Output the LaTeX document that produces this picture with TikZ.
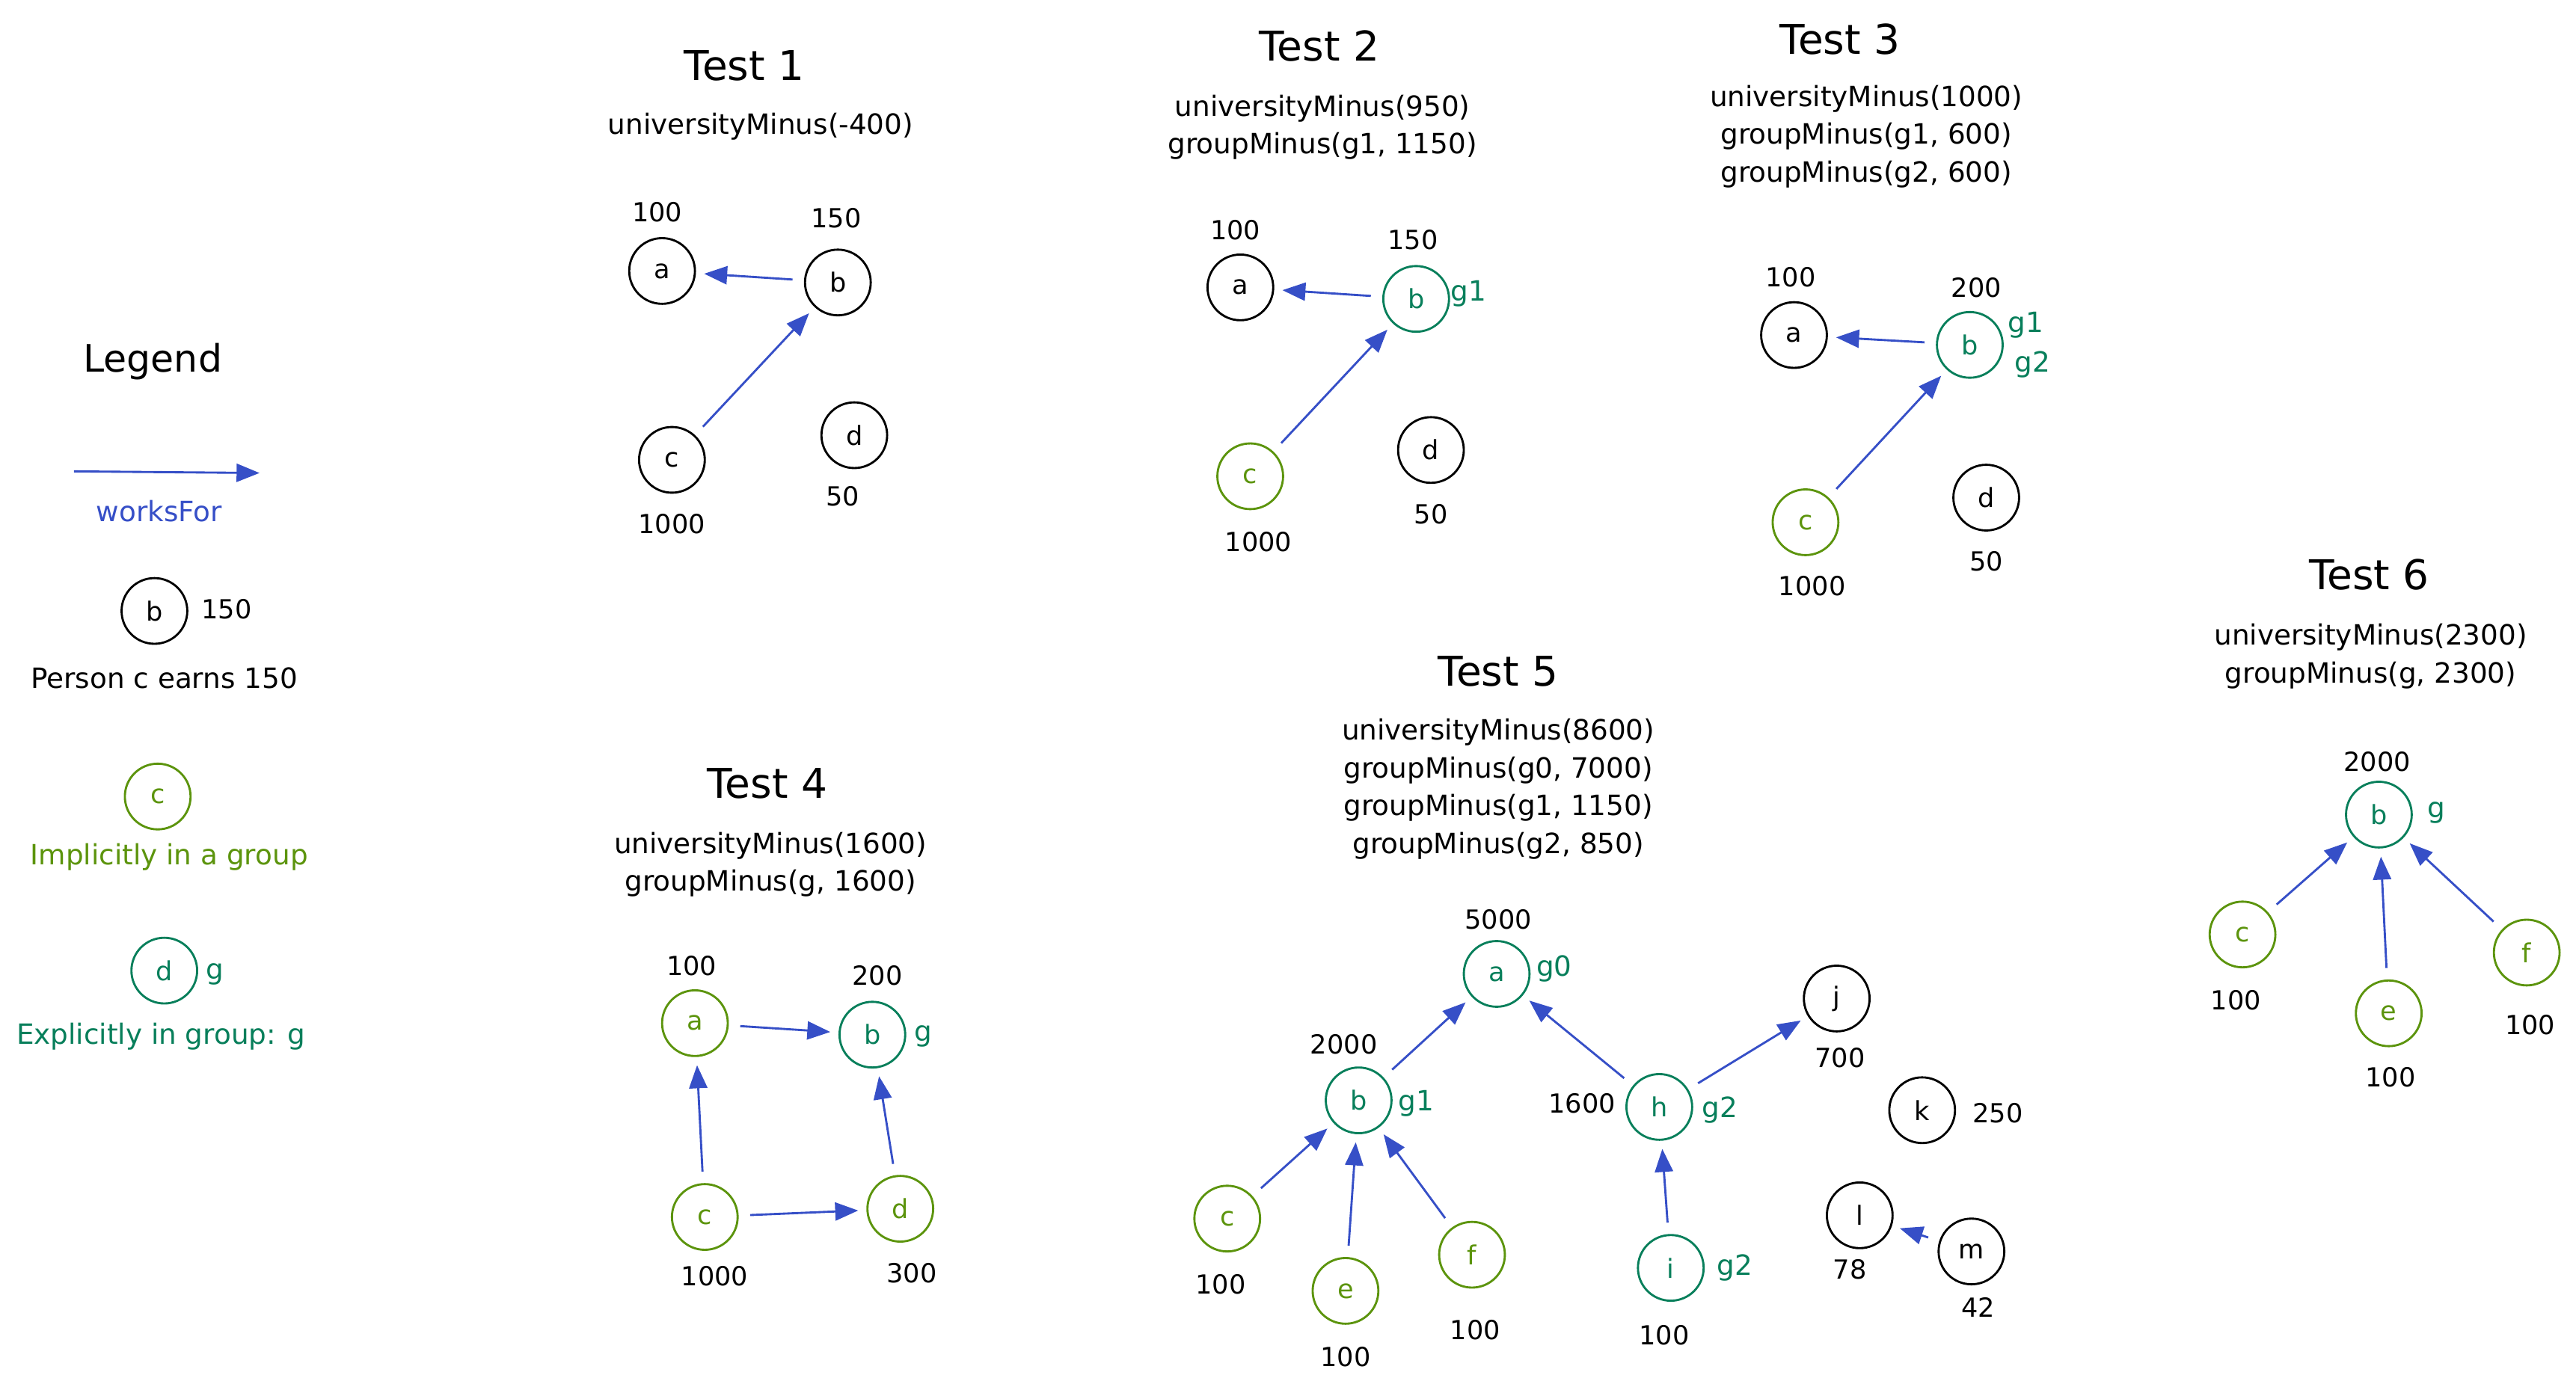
\documentclass[tikz,border=0pt]{standalone}
\usepackage{fontspec}
\setmainfont{DejaVu Sans}
\usetikzlibrary{arrows.meta}
\definecolor{wfblue}{HTML}{364FC7}
\definecolor{implgreen}{HTML}{5C940D}
\definecolor{explteal}{HTML}{087F5B}
\begin{document}
\begin{tikzpicture}[x=1pt,y=-1pt,
		person/.style={circle,draw,line width=1.3pt,minimum size=40pt,inner sep=0pt,font=\fontsize{16}{16}\selectfont},
		impl/.style={person,draw=implgreen,text=implgreen},
		expl/.style={person,draw=explteal,text=explteal},
		grp/.style={text=explteal,font=\fontsize{17}{17}\selectfont},
		val/.style={font=\fontsize{16}{16}\selectfont},
		title/.style={font=\fontsize{25}{25}\selectfont},
		call/.style={font=\fontsize{17}{23}\selectfont,align=center},
		works/.style={draw=wfblue,line width=1.3pt,-{Triangle[length=14pt,width=11pt]},shorten <=7pt,shorten >=5pt}]
	\useasboundingbox (0,0) rectangle (1568,848);
	%
	% legend
	\node[title,font=\fontsize{23}{23}\selectfont] (legend) at (93,220) {Legend};
	\coordinate (wf0) at (45,287);
	\coordinate (wf1) at (158,288);
	\draw[works,shorten <=0pt,shorten >=0pt] (wf0) -- (wf1);
	\node[call,text=wfblue] (wf) at (97,311) {worksFor};
	\node[person] (lgb) at (94,372) {b};
	\node[val] (lgb-v) at (138,371) {150};
	\node[call] (lgb-t) at (100,413) {Person c earns 150};
	\node[impl] (lgc) at (96,485) {c};
	\node[call,text=implgreen] (lgc-t) at (103,522) {Implicitly in a group};
	\node[expl] (lgd) at (100,591) {d};
	\node[grp] (lgd-g) at (131,593) {g};
	\node[call,text=explteal] (lgd-t) at (98,631) {Explicitly in group: g};
	%
	% test 1
	\node[title] (t1) at (453,40) {Test 1};
	\node[call] (t1-f) at (463,77) {universityMinus(-400)};
	\node[person] (t1a) at (403,165) {a};
	\node[person] (t1b) at (510,172) {b};
	\node[person] (t1c) at (409,280) {c};
	\node[person] (t1d) at (520,265) {d};
	\draw[works] (t1b) -- (t1a);
	\draw[works] (t1c) -- (t1b);
	%
	% test 2
	\node[title] (t2) at (803,28) {Test 2};
	\node[call] (t2-f) at (805,77.5) {universityMinus(950)\\groupMinus(g1, 1150)};
	\node[person] (t2a) at (755,175) {a};
	\node[expl] (t2b) at (862,182) {b};
	\node[impl] (t2c) at (761,290) {c};
	\node[person] (t2d) at (871,274) {d};
	\node[grp] (t2b-g) at (894,179) {g1};
	\draw[works] (t2b) -- (t2a);
	\draw[works] (t2c) -- (t2b);
	%
	% test 3
	\node[title] (t3) at (1120,24) {Test 3};
	\node[call] (t3-f) at (1136,83) {universityMinus(1000)\\groupMinus(g1, 600)\\groupMinus(g2, 600)};
	\node[person] (t3a) at (1092,204) {a};
	\node[expl] (t3b) at (1199,210) {b};
	\node[impl] (t3c) at (1099,318) {c};
	\node[person] (t3d) at (1209,303) {d};
	\node[grp] (t3b-g) at (1233,198) {g1};
	\node[grp] (t3b-h) at (1237,222) {g2};
	\draw[works] (t3b) -- (t3a);
	\draw[works] (t3c) -- (t3b);
	%
	% test 4
	\node[title] (t4) at (467,477) {Test 4};
	\node[call] (t4-f) at (469,526.5) {universityMinus(1600)\\groupMinus(g, 1600)};
	\node[impl] (t4a) at (423,623) {a};
	\node[expl] (t4b) at (531,630) {b};
	\node[impl] (t4c) at (429,741) {c};
	\node[impl] (t4d) at (548,736) {d};
	\node[grp] (t4b-g) at (562,631) {g};
	\draw[works] (t4a) -- (t4b);
	\draw[works] (t4c) -- (t4a);
	\draw[works] (t4c) -- (t4d);
	\draw[works] (t4d) -- (t4b);
	%
	% test 5
	\node[title] (t5) at (912,409) {Test 5};
	\node[call] (t5-f) at (912,480.5) {universityMinus(8600)\\groupMinus(g0, 7000)\\groupMinus(g1, 1150)\\groupMinus(g2, 850)};
	\node[expl] (t5a) at (911,593) {a};
	\node[expl] (t5b) at (827,670) {b};
	\node[expl] (t5h) at (1010,674) {h};
	\node[person] (t5j) at (1118,608) {j};
	\node[person] (t5k) at (1170,676) {k};
	\node[impl] (t5c) at (747,742) {c};
	\node[impl] (t5e) at (819,786) {e};
	\node[impl] (t5f) at (896,764) {f};
	\node[expl] (t5i) at (1017,772) {i};
	\node[person] (t5l) at (1132,740) {l};
	\node[person] (t5m) at (1200,762) {m};
	\node[grp] (t5a-g) at (946,590) {g0};
	\node[grp] (t5b-g) at (862,672) {g1};
	\node[grp] (t5h-g) at (1047,676) {g2};
	\node[grp] (t5i-g) at (1056,772) {g2};
	\foreach \s/\t in {b/a,h/a,h/j,c/b,e/b,f/b,i/h,m/l}
		\draw[works] (t5\s) -- (t5\t);
	%
	% test 6
	\node[title] (t6) at (1442,350) {Test 6};
	\node[call] (t6-f) at (1443,399.5) {universityMinus(2300)\\groupMinus(g, 2300)};
	\node[expl] (t6b) at (1448,496) {b};
	\node[impl] (t6c) at (1365,569) {c};
	\node[impl] (t6e) at (1454,617) {e};
	\node[impl] (t6f) at (1538,580) {f};
	\node[grp] (t6b-g) at (1483,495) {g};
	\foreach \s in {c,e,f}
		\draw[works] (t6\s) -- (t6b);
	%
	% earnings
	\foreach \n/\x/\y/\v in {t1a/400/129/100, t1b/509/133/150, t1c/409/319/1000, t1d/513/302/50,
			t2a/752/140/100, t2b/860/146/150, t2c/766/330/1000, t2d/871/313/50,
			t3a/1090/169/100, t3b/1203/175/200, t3c/1103/357/1000, t3d/1209/342/50,
			t4a/421/588/100, t4b/534/594/200, t4c/435/777/1000, t4d/555/775/300,
			t5a/912/560/5000, t5b/818/636/2000, t5h/963/672/1600, t5j/1120/644/700,
			t5k/1216/678/250, t5c/743/782/100, t5e/819/826/100, t5f/898/810/100,
			t5i/1013/813/100, t5l/1126/773/78, t5m/1204/796/42,
			t6b/1447/464/2000, t6c/1361/609/100, t6e/1455/656/100, t6f/1540/624/100}
		\node[val] (\n-v) at (\x,\y) {\v};
\end{tikzpicture}
\end{document}
